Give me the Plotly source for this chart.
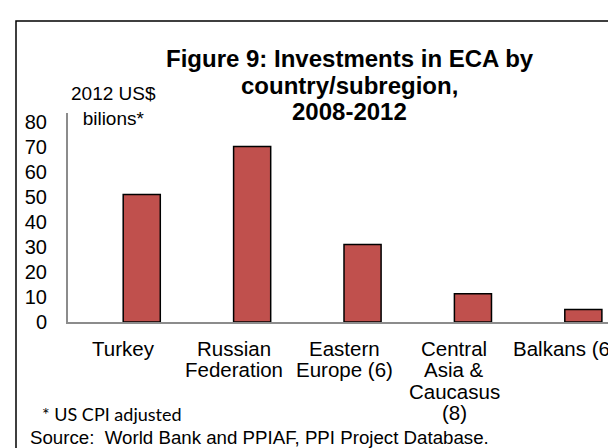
import plotly.graph_objects as go

# ---- data ----
categories = ["Turkey", "Russian Federation", "Eastern Europe (6)",
              "Central Asia & Caucasus (8)", "Balkans (6)"]
category_lines = [["Turkey"], ["Russian", "Federation"], ["Eastern", "Europe (6)"],
                  ["Central", "Asia &", "Caucasus", "(8)"], ["Balkans (6)"]]
values = [51.0, 70.2, 31.0, 11.3, 5.0]
y_ticks = [0, 10, 20, 30, 40, 50, 60, 70, 80]
title_lines = ["Figure 9: Investments in ECA by", "country/subregion,", "2008-2012"]
unit_lines = ["2012 US$", "bilions*"]
footnote = "* US CPI adjusted"
source = "Source:  World Bank and PPIAF, PPI Project Database."

# ---- layout geometry (pixels) ----
W, H = 616, 448
L, R, T, B = 60, 4, 105, 134
PW, PH = W - L - R, H - T - B


def px(x, y):
    return (x - L) / PW, (H - B - y) / PH


FONT = "Liberation Sans, Arial, sans-serif"

fig = go.Figure()
fig.add_trace(go.Bar(
    x=categories, y=values, offset=0, width=0.336,
    marker=dict(color="#C0504D", line=dict(color="black", width=1.5)),
    showlegend=False, hoverinfo="x+y"))

ann = []
# title
for i, line in enumerate(title_lines):
    x, y = px(341.5, 50.5 + i * 26.5)
    ann.append(dict(text="<b>" + line + "</b>", x=x, y=y, xref="paper", yref="paper",
                    xanchor="center", yanchor="middle", showarrow=False,
                    font=dict(family=FONT, size=24, color="black")))
# unit label (two lines in one text block)
x, y = px(105, 97.5)
ann.append(dict(text="<br>".join(unit_lines), x=x, y=y, xref="paper", yref="paper",
                xanchor="center", yanchor="middle", showarrow=False, align="center",
                font=dict(family=FONT, size=19, color="black")))
# category labels (line by line)
for cat, lines in zip(categories, category_lines):
    for j, line in enumerate(lines):
        ann.append(dict(text=line, x=cat, xref="x", y=0, yref="paper",
                        xanchor="center", yanchor="middle", yshift=-(26 + j * 21.5),
                        showarrow=False, font=dict(family=FONT, size=20.5, color="black")))
# footnote
x, y = px(32, 406)
ann.append(dict(text=footnote, x=x, y=y, xref="paper", yref="paper",
                xanchor="left", yanchor="middle", showarrow=False,
                font=dict(family="Lato, Carlito, sans-serif", size=18, color="black")))
# source
x, y = px(20, 429)
ann.append(dict(text=source, x=x, y=y, xref="paper", yref="paper",
                xanchor="left", yanchor="middle", showarrow=False,
                font=dict(family=FONT, size=18.7, color="black")))

bx0, by0 = px(8, 13)
bx1, by1 = px(700, 500)

fig.update_layout(
    width=W, height=H,
    margin=dict(l=L, r=R, t=T, b=B, pad=0),
    paper_bgcolor="white", plot_bgcolor="white",
    xaxis=dict(type="category", range=[-0.5, 4.5], showline=True, linecolor="#8c8c8c",
               linewidth=2, showticklabels=False, showgrid=False, zeroline=False, ticks=""),
    yaxis=dict(range=[0, 83.6], tickvals=y_ticks, showline=True, linecolor="#8c8c8c",
               linewidth=2, showgrid=False, zeroline=False, ticks="",
               ticklabelstandoff=15,
               tickfont=dict(family=FONT, size=20, color="black")),
    annotations=ann,
    shapes=[dict(type="rect", xref="paper", yref="paper", x0=bx0, y0=by0, x1=bx1, y1=by1,
                 line=dict(color="black", width=1.5), fillcolor="rgba(0,0,0,0)",
                 layer="above")],
)

fig.write_html("out.html")
